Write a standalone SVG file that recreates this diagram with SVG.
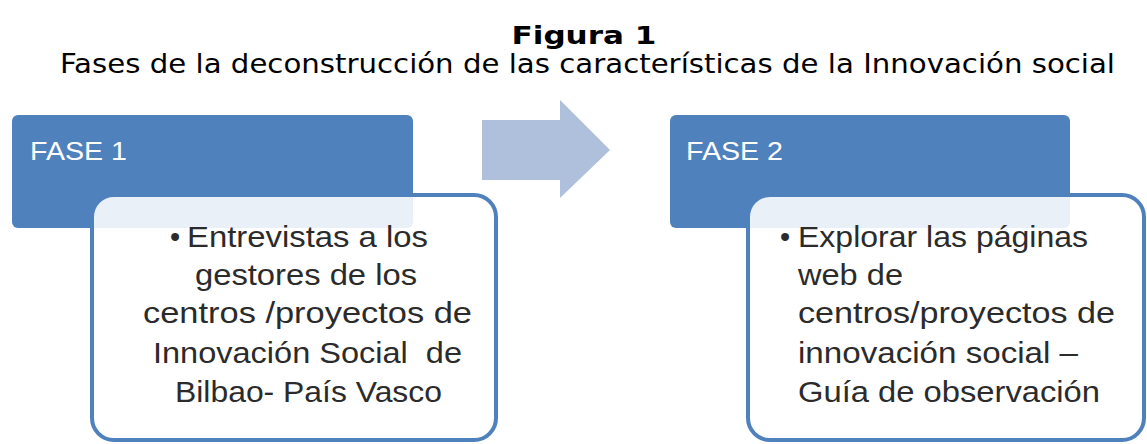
<svg xmlns="http://www.w3.org/2000/svg" width="1147" height="444" viewBox="0 0 1147 444">
<style>
.hdr{fill:#4F81BD}
.box{fill:#ffffff;fill-opacity:0.88;stroke:#4F81BD;stroke-width:4}
.fase{font-family:"Liberation Sans",Arial,sans-serif;font-size:26px;fill:#ffffff}
.body{font-family:"Liberation Sans",Arial,sans-serif;font-size:29px;fill:#2b2b2b;white-space:pre}
.title{font-family:"DejaVu Sans",Verdana,sans-serif;fill:#000000}
</style>
<rect width="1147" height="444" fill="#ffffff"/>
<g id="title">
<text class="title" x="584" y="44" text-anchor="middle" font-weight="bold" font-size="24" textLength="145" lengthAdjust="spacingAndGlyphs">Figura 1</text>
<text class="title" x="60" y="73" font-size="27" textLength="1055" lengthAdjust="spacingAndGlyphs">Fases de la deconstrucción de las características de la Innovación social</text>
</g>
<g id="fase1">
<rect class="hdr" x="12" y="115" width="401" height="113" rx="6"/>
<text class="fase" x="30" y="160" textLength="97" lengthAdjust="spacingAndGlyphs">FASE 1</text>
<rect class="box" x="92" y="195" width="404" height="245" rx="22"/>
<text class="body" x="170" y="247">•</text>
<text class="body" x="187" y="247" textLength="241" lengthAdjust="spacingAndGlyphs">Entrevistas a los</text>
<text class="body" x="195" y="285" textLength="222" lengthAdjust="spacingAndGlyphs">gestores de los</text>
<text class="body" x="143" y="323" textLength="329" lengthAdjust="spacingAndGlyphs">centros /proyectos de</text>
<text class="body" x="153" y="363" textLength="309" lengthAdjust="spacingAndGlyphs">Innovación Social&#160;&#160;de</text>
<text class="body" x="175" y="402" textLength="267" lengthAdjust="spacingAndGlyphs">Bilbao- País Vasco</text>
</g>
<g id="connectors">
<polygon points="482,120 560,120 560,100 610,150 560,198 560,180 482,180" fill="#AFC0DC"/>
</g>
<g id="fase2">
<rect class="hdr" x="670" y="115" width="400" height="113" rx="6"/>
<text class="fase" x="686" y="160" textLength="97" lengthAdjust="spacingAndGlyphs">FASE 2</text>
<rect class="box" x="748" y="195" width="396" height="245" rx="22"/>
<text class="body" x="780" y="247">•</text>
<text class="body" x="798" y="247" textLength="290" lengthAdjust="spacingAndGlyphs">Explorar las páginas</text>
<text class="body" x="798" y="285" textLength="105" lengthAdjust="spacingAndGlyphs">web de</text>
<text class="body" x="798" y="323" textLength="317" lengthAdjust="spacingAndGlyphs">centros/proyectos de</text>
<text class="body" x="798" y="363" textLength="280" lengthAdjust="spacingAndGlyphs">innovación social –</text>
<text class="body" x="798" y="402" textLength="302" lengthAdjust="spacingAndGlyphs">Guía de observación</text>
</g>
</svg>
